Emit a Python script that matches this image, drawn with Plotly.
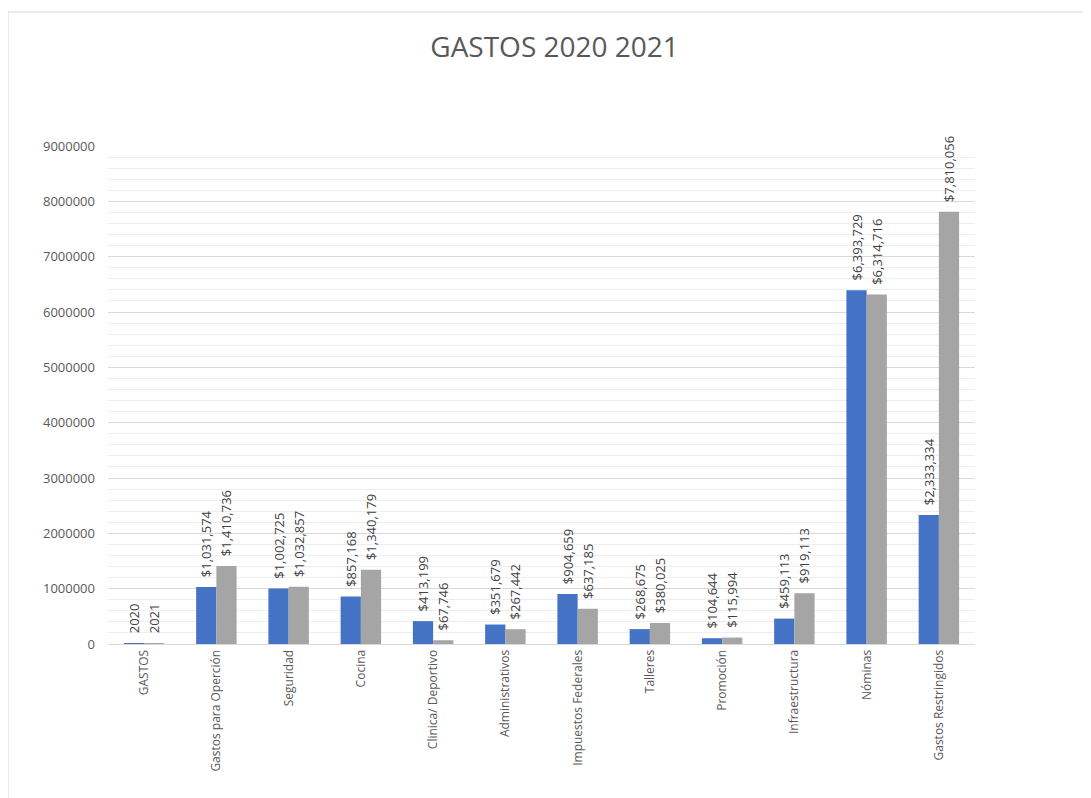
import plotly.graph_objects as go

categories = ["GASTOS", "Gastos para Operción", "Seguridad", "Cocina", "Clinica/ Deportivo",
              "Administrativos", "Impuestos Federales", "Talleres", "Promoción",
              "Infraestructura", "Nóminas", "Gastos Restringidos"]
values_2020 = [2020, 1031574, 1002725, 857168, 413199, 351679, 904659, 268675, 104644, 459113, 6393729, 2333334]
values_2021 = [2021, 1410736, 1032857, 1340179, 67746, 267442, 637185, 380025, 115994, 919113, 6314716, 7810056]
y_ticks = [0, 1000000, 2000000, 3000000, 4000000, 5000000, 6000000, 7000000, 8000000, 9000000]


def labels(vals):
    out = []
    for i, v in enumerate(vals):
        s = str(v) if i == 0 else "${:,}".format(v)
        out.append("\u00a0\u00a0" + s)
    return out


FONT = "Open Sans, Liberation Sans, sans-serif"

fig = go.Figure()
for name, vals, color in [("2020", values_2020, "#4472C4"), ("2021", values_2021, "#A5A5A5")]:
    fig.add_trace(go.Bar(
        x=categories, y=vals, name=name, marker=dict(color=color, line=dict(width=0)),
        text=labels(vals), textposition="outside", textangle=-90,
        textfont=dict(family=FONT, size=13, color="#404040"),
        constraintext="none", cliponaxis=False,
    ))

fig.update_layout(
    width=1091, height=798,
    paper_bgcolor="white", plot_bgcolor="white",
    barmode="group", bargap=0.44, bargroupgap=0,
    showlegend=False,
    title=dict(text="GASTOS 2020 2021", x=0.501, xanchor="center", y=0.951, yanchor="middle",
               font=dict(family=FONT, size=28, color="#595959")),
    margin=dict(l=100, r=124, t=138, b=162, autoexpand=False),
    font=dict(family=FONT, color="#595959"),
    shapes=[dict(type="rect", xref="paper", yref="paper", x0=-0.1153, x1=1.2, y0=-0.4, y1=1.269,
                 line=dict(color="#D9D9D9", width=1), layer="below")],
)
fig.update_xaxes(
    tickangle=-90, tickfont=dict(size=12, color="#595959"),
    showline=True, linecolor="#D9D9D9", linewidth=1, ticks="", showgrid=False,
)
fig.update_yaxes(
    range=[0, 9000000], tickvals=y_ticks, tickformat="d",
    tickfont=dict(size=13, color="#595959"), ticklabelstandoff=12,
    showgrid=True, gridcolor="#D9D9D9", gridwidth=1, zeroline=False,
    minor=dict(dtick=200000, showgrid=True, gridcolor="#EEEEEE", gridwidth=1),
    ticks="", showline=False,
)

fig.write_html("out.html")
